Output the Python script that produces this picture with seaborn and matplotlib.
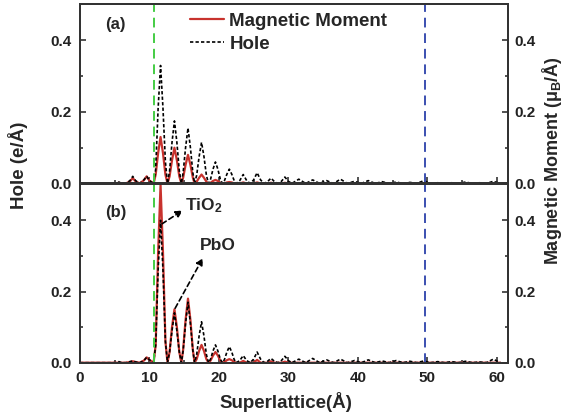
import numpy as np
import matplotlib
matplotlib.use("Agg")
import matplotlib.pyplot as plt
import seaborn as sns

# Superlattice sampling positions (Å)
xs = [0.0, 3.0, 5.2, 5.6, 6.0, 6.6, 7.2, 7.6, 8.0, 8.6, 9.2, 9.6, 10.0, 10.6,
      10.9, 11.25, 11.6, 11.95, 12.3, 12.6,
      12.9, 13.25, 13.6, 13.95, 14.3, 14.6,
      14.85, 15.2, 15.55, 15.9, 16.25, 16.5,
      16.8, 17.15, 17.5, 17.85, 18.2, 18.5,
      18.8, 19.15, 19.5, 19.85, 20.2, 20.5,
      20.8, 21.15, 21.5, 21.85, 22.2, 22.5,
      23.0, 23.5, 24.0, 24.5, 25.0, 25.5, 26.0, 26.5,
      27.0, 27.5, 28.0, 28.5, 29.0, 29.5, 30.0, 30.5,
      31.5, 32.5, 33.5, 34.5, 35.5, 36.5, 37.5, 38.5, 39.5, 40.5,
      41.5, 42.5, 43.5, 44.5, 45.5, 46.5, 47.5, 48.5, 49.5, 50.5,
      51.5, 52.5, 53.5, 54.5, 55.5, 56.5, 57.5, 58.5, 59.5, 60.5]

# panel (a)
hole_a = [0, 0, 0, 0.004, 0, 0, 0.008, 0.02, 0.008, 0, 0.01, 0.02, 0.008, 0,
          0.04, 0.21, 0.33, 0.21, 0.06, 0.0,
          0.035, 0.115, 0.175, 0.115, 0.035, 0.0,
          0.03, 0.1, 0.155, 0.1, 0.03, 0.0,
          0.023, 0.075, 0.115, 0.075, 0.023, 0.0,
          0.012, 0.04, 0.06, 0.04, 0.012, 0.0,
          0.008, 0.026, 0.04, 0.026, 0.008, 0.0,
          0.008, 0.025, 0.008, 0, 0.01, 0.03, 0.01, 0,
          0.005, 0.015, 0.005, 0, 0.006, 0.018, 0.006, 0,
          0.012, 0, 0.01, 0, 0.008, 0, 0.012, 0, 0.006, 0,
          0.008, 0, 0.005, 0, 0.004, 0, 0.003, 0, 0.008, 0,
          0.002, 0, 0.002, 0, 0.004, 0, 0.002, 0, 0.006, 0]
moment_a = [0, 0, 0, 0.002, 0, 0, 0.006, 0.015, 0.006, 0, 0.009, 0.02, 0.008, 0,
            0.025, 0.085, 0.13, 0.085, 0.025, 0,
            0.02, 0.065, 0.10, 0.065, 0.02, 0,
            0.016, 0.052, 0.08, 0.052, 0.016, 0,
            0.005, 0.016, 0.025, 0.016, 0.005, 0,
            0.002, 0.007, 0.01, 0.007, 0.002, 0,
            0, 0.003, 0.004, 0.003, 0, 0,
            0, 0.003, 0, 0, 0, 0.003, 0, 0,
            0, 0.002, 0, 0, 0, 0.002, 0, 0,
            0, 0, 0, 0, 0, 0, 0, 0, 0, 0,
            0, 0, 0, 0, 0, 0, 0, 0, 0, 0,
            0, 0, 0, 0, 0, 0, 0, 0, 0, 0]

# panel (b)
hole_b = [0, 0, 0, 0.003, 0, 0, 0.003, 0.005, 0.002, 0, 0.006, 0.015, 0.008, 0,
          0.05, 0.26, 0.40, 0.26, 0.06, 0,
          0.03, 0.09, 0.14, 0.09, 0.03, 0,
          0.034, 0.11, 0.17, 0.11, 0.034, 0,
          0.023, 0.075, 0.115, 0.075, 0.023, 0,
          0.01, 0.033, 0.05, 0.033, 0.01, 0,
          0.009, 0.03, 0.045, 0.03, 0.009, 0,
          0.006, 0.02, 0.006, 0, 0.01, 0.03, 0.01, 0,
          0.004, 0.012, 0.004, 0, 0.006, 0.018, 0.006, 0,
          0.01, 0, 0.012, 0, 0.008, 0, 0.01, 0, 0.006, 0,
          0.008, 0, 0.005, 0, 0.006, 0, 0.004, 0, 0.005, 0,
          0.003, 0, 0.003, 0, 0.004, 0, 0.002, 0, 0.01, 0]
moment_b = [0, 0, 0, 0, 0, 0, 0.002, 0.004, 0.002, 0, 0.006, 0.015, 0.008, 0,
            0.05, 0.31, 0.5, 0.31, 0.06, 0,
            0.03, 0.1, 0.15, 0.1, 0.03, 0,
            0.036, 0.12, 0.18, 0.12, 0.036, 0,
            0.01, 0.033, 0.05, 0.033, 0.01, 0,
            0.006, 0.02, 0.03, 0.02, 0.006, 0,
            0.002, 0.007, 0.01, 0.007, 0.002, 0,
            0, 0.005, 0, 0, 0, 0.008, 0, 0,
            0, 0.004, 0, 0, 0, 0.003, 0, 0,
            0, 0, 0, 0, 0, 0, 0, 0, 0, 0,
            0, 0, 0, 0, 0, 0, 0, 0, 0, 0,
            0, 0, 0, 0, 0, 0, 0, 0, 0, 0]

for s in (hole_a, moment_a, hole_b, moment_b):
    assert len(s) == len(xs)

green_x = 10.7
blue_x = 49.6

sns.set_style("ticks")
plt.rcParams["font.family"] = ["Liberation Sans", "DejaVu Sans"]
plt.rcParams["font.weight"] = "bold"
plt.rcParams["mathtext.default"] = "regular"

RED = "#c8322d"
TICK_FS = 11
fig = plt.figure(figsize=(5.66, 4.17), dpi=100)
ax_a = fig.add_axes([0.1413, 0.560, 0.756, 0.4305])
ax_b = fig.add_axes([0.1413, 0.1302, 0.756, 0.4285], sharex=ax_a)


def style_y(ax, pad):
    ax.set_ylim(0, 0.502)
    ax.set_yticks([0.0, 0.2, 0.4])
    ax.set_yticks([0.1, 0.3], minor=True)
    ax.set_yticklabels(["0.0", "0.2", "0.4"], fontweight="bold")
    ax.tick_params(which="both", direction="in", labelsize=TICK_FS, width=1.1,
                   colors="#222222", pad=pad)
    ax.tick_params(which="major", length=4)
    ax.tick_params(which="minor", length=2.5)
    for sp in ax.spines.values():
        sp.set_visible(True)
        sp.set_linewidth(1.4)
        sp.set_color("#333333")


for ax, hole, mom in [(ax_a, hole_a, moment_a), (ax_b, hole_b, moment_b)]:
    sns.lineplot(x=xs, y=mom, ax=ax, color=RED, lw=1.6, label="Magnetic Moment")
    sns.lineplot(x=xs, y=hole, ax=ax, color="black", lw=1.2,
                 linestyle=(0, (2.0, 1.3)), label="Hole")
    ax.axvline(green_x, color="#44cc44", lw=1.4, ls=(0, (5, 3)))
    ax.axvline(blue_x, color="#3b4fb0", lw=1.4, ls=(0, (5, 3)))
    ax.set_xlim(0, 61.6)
    ax.set_xticks(range(0, 61, 10))
    ax.set_xticks(range(5, 61, 10), minor=True)
    ax.set_xlabel("")
    ax.set_ylabel("")
    style_y(ax, 6)

    twin = ax.twinx()
    style_y(twin, 5)

ax_a.tick_params(axis="x", labelbottom=False)
ax_b.set_xticklabels([str(v) for v in range(0, 61, 10)], fontweight="bold")

ax_b.get_legend().remove()
ax_a.legend(loc="upper left", bbox_to_anchor=(0.257, 0.95), frameon=False,
            prop={"size": 13.5, "weight": "bold"}, handlelength=1.8,
            handletextpad=0.3, borderpad=0, borderaxespad=0, labelspacing=0.3)

ax_a.text(0.058, 0.883, "(a)", transform=ax_a.transAxes, fontsize=12,
          fontweight="bold", va="center")
ax_b.text(0.058, 0.843, "(b)", transform=ax_b.transAxes, fontsize=12,
          fontweight="bold", va="center")

arrow = dict(arrowstyle="-|>", color="black", lw=1.2, linestyle=(0, (3, 2)),
             mutation_scale=10, shrinkA=0, shrinkB=0)
ax_b.annotate("", xy=(14.8, 0.428), xytext=(11.8, 0.39), arrowprops=arrow)
ax_b.text(15.1, 0.442, "TiO$_2$", fontsize=12.5, fontweight="bold", va="center")
ax_b.annotate("", xy=(17.7, 0.294), xytext=(13.7, 0.153), arrowprops=arrow)
ax_b.text(17.3, 0.33, "PbO", fontsize=12.5, fontweight="bold", va="center")

fig.text(0.032, 0.604, "Hole (e/Å)", rotation=90, ha="center", va="center",
         fontsize=13.5, fontweight="bold")
fig.text(0.975, 0.616, "Magnetic Moment (μ$_B$/Å)", rotation=90, ha="center",
         va="center", fontsize=13, fontweight="bold")
fig.text(0.505, 0.036, "Superlattice(Å)", ha="center", va="center",
         fontsize=13.5, fontweight="bold")

fig.savefig("out.png", dpi=100)
